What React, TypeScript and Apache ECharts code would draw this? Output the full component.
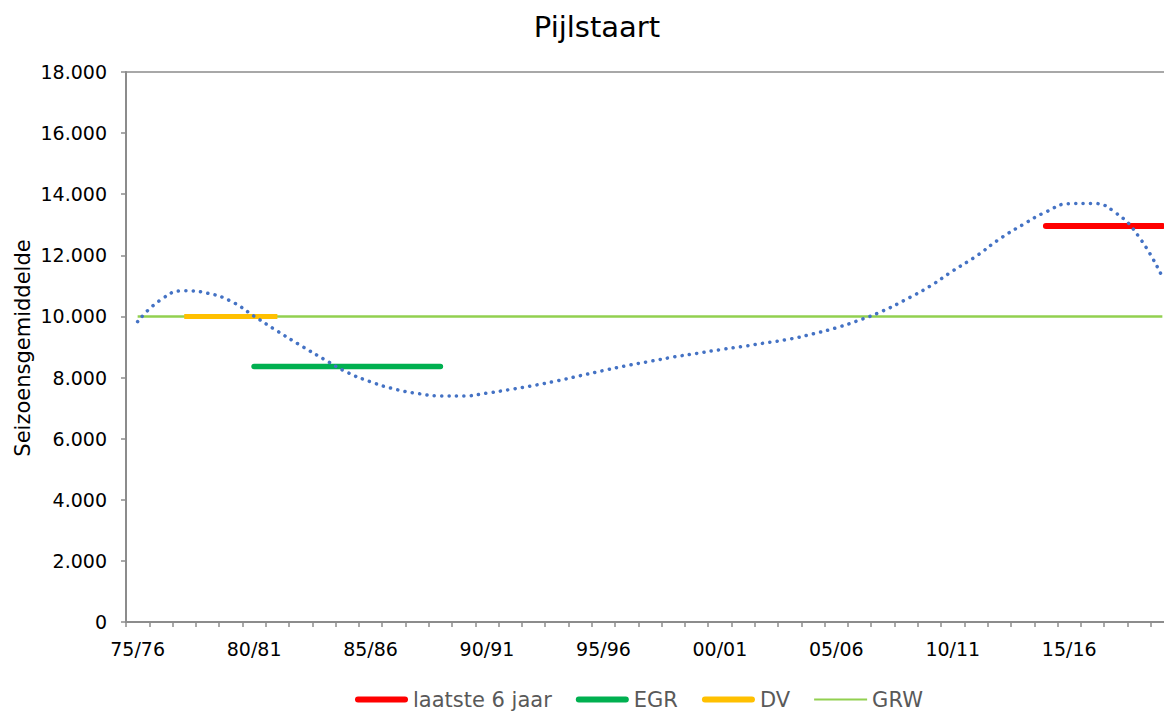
import React, { useEffect, useRef } from "react";
import * as echarts from "echarts";

const seasons = [
  "75/76", "76/77", "77/78", "78/79", "79/80", "80/81", "81/82", "82/83", "83/84", "84/85",
  "85/86", "86/87", "87/88", "88/89", "89/90", "90/91", "91/92", "92/93", "93/94", "94/95",
  "95/96", "96/97", "97/98", "98/99", "99/00", "00/01", "01/02", "02/03", "03/04", "04/05",
  "05/06", "06/07", "07/08", "08/09", "09/10", "10/11", "11/12", "12/13", "13/14", "14/15",
  "15/16", "16/17", "17/18", "18/19", "19/20",
];

// polynomial trend line (dotted blue), one value per season
const trendValues = [
  9830, 10550, 10840, 10760, 10500, 10010, 9520, 9050, 8600, 8170,
  7860, 7630, 7480, 7400, 7400, 7490, 7610, 7740, 7890, 8060,
  8230, 8390, 8530, 8670, 8790, 8910, 9020, 9140, 9260, 9430,
  9630, 9880, 10180, 10560, 10980, 11490, 11970, 12530, 13000, 13420,
  13690, 13700, 13390, 12600, 11290,
];

const laatste6Jaar = { from: "14/15", to: "19/20", value: 12960 };
const egr = { from: "80/81", to: "88/89", value: 8360 };
const dv = { from: "77/78", to: "81/82", value: 10000 };
const grw = { from: "75/76", to: "19/20", value: 10000 };

const yMin = 0;
const yMax = 18000;
const yInterval = 2000;

const FONT = "'DejaVu Sans', sans-serif";

// legend icons: a bounding box of 53x14 so the path is drawn at 1:1
const THICK_ICON = "path://M0,0 M53,14 M3,4 L50,4 A3,3 0 0 1 50,10 L3,10 A3,3 0 0 1 3,4 Z";
const THIN_ICON = "path://M0,0 M53,14 M0,6 L53,6 L53,8 L0,8 Z";

function fmt(v: number): string {
  return String(v).replace(/\B(?=(\d{3})+(?!\d))/g, ".");
}

export default function App() {
  const ref = useRef<HTMLDivElement>(null);
  useEffect(() => {
    if (!ref.current) return;
    const chart = echarts.init(ref.current, null, { renderer: "svg" });
    const seg = (s: { from: string; to: string; value: number }) => [
      [s.from, s.value],
      [s.to, s.value],
    ];
    chart.setOption({
      animation: false,
      backgroundColor: "#ffffff",
      grid: {
        left: 126,
        top: 72,
        right: 26,
        bottom: 89,
        show: true,
        borderColor: "#8c8c8c",
        borderWidth: 1.5,
        backgroundColor: "transparent",
      },
      graphic: [
        {
          type: "text",
          x: 597,
          y: 27,
          style: {
            text: "Pijlstaart",
            font: `29px ${FONT}`,
            fill: "#000000",
            align: "center",
            verticalAlign: "middle",
            textAlign: "center",
            textVerticalAlign: "middle",
          },
        },
        {
          type: "text",
          x: 23,
          y: 348,
          rotation: Math.PI / 2,
          style: {
            text: "Seizoensgemiddelde",
            font: `21px ${FONT}`,
            fill: "#000000",
            align: "center",
            verticalAlign: "middle",
            textAlign: "center",
            textVerticalAlign: "middle",
          },
        },
      ],
      legend: {
        left: 350,
        top: 684,
        itemWidth: 53,
        itemHeight: 14,
        itemGap: 24,
        textStyle: { fontFamily: FONT, fontSize: 21, color: "#595959" },
        data: [
          { name: "laatste 6 jaar", icon: THICK_ICON },
          { name: "EGR", icon: THICK_ICON },
          { name: "DV", icon: THICK_ICON },
          { name: "GRW", icon: THIN_ICON },
        ],
      },
      xAxis: {
        type: "category",
        data: seasons,
        boundaryGap: true,
        axisLine: { lineStyle: { color: "#8c8c8c", width: 2 } },
        axisTick: { show: true, interval: 0, length: 5, lineStyle: { color: "#8c8c8c", width: 1.5 } },
        axisLabel: {
          interval: 4,
          margin: 17,
          fontFamily: FONT,
          fontSize: 19,
          color: "#000000",
        },
        splitLine: { show: false },
      },
      yAxis: {
        type: "value",
        min: yMin,
        max: yMax,
        interval: yInterval,
        axisLine: { show: true, lineStyle: { color: "#8c8c8c", width: 2 } },
        axisTick: { show: true, length: 5, lineStyle: { color: "#8c8c8c", width: 1.5 } },
        axisLabel: {
          margin: 19,
          fontFamily: FONT,
          fontSize: 19,
          color: "#000000",
          formatter: (v: number) => fmt(v),
        },
        splitLine: { show: false },
      },
      series: [
        {
          name: "GRW",
          type: "line",
          data: seg(grw),
          symbol: "none",
          lineStyle: { color: "#92D050", width: 2.5 },
          itemStyle: { color: "#92D050" },
        },
        {
          name: "DV",
          type: "line",
          data: seg(dv),
          symbol: "none",
          lineStyle: { color: "#FFC000", width: 5 },
          itemStyle: { color: "#FFC000" },
        },
        {
          name: "EGR",
          type: "line",
          data: seg(egr),
          symbol: "none",
          lineStyle: { color: "#00B050", width: 5.5, cap: "round" },
          itemStyle: { color: "#00B050" },
        },
        {
          name: "laatste 6 jaar",
          type: "line",
          data: seg(laatste6Jaar),
          symbol: "none",
          lineStyle: { color: "#FF0000", width: 6, cap: "round" },
          itemStyle: { color: "#FF0000" },
        },
        {
          name: "trend",
          type: "line",
          data: trendValues,
          symbol: "none",
          smooth: true,
          lineStyle: { color: "#4472C4", width: 3.5, type: [0.1, 7.3], cap: "round" },
          itemStyle: { color: "#4472C4" },
        },
      ],
    });
    return () => chart.dispose();
  }, []);
  return (
    <div
      style={{
        position: "fixed",
        left: 0,
        top: 0,
        width: 1164,
        height: 711,
        overflow: "hidden",
        background: "#ffffff",
      }}
    >
      <div ref={ref} style={{ width: 1200, height: 711 }} />
    </div>
  );
}
